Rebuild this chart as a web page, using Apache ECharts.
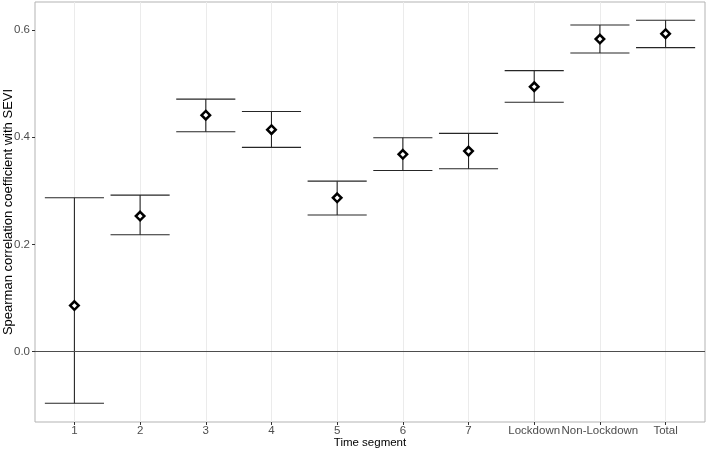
<!DOCTYPE html>
<html>
<head>
<meta charset="utf-8">
<script src="https://cdn.jsdelivr.net/npm/echarts@6/dist/echarts.min.js"></script>
<style>
html,body{margin:0;padding:0;background:#fff;}
#chart{width:708px;height:451px;}
</style>
</head>
<body>
<div id="chart"></div>
<script>
const categories = ['1','2','3','4','5','6','7','Lockdown','Non-Lockdown','Total'];
const estimate = [0.086, 0.253, 0.441, 0.414, 0.287, 0.368, 0.374, 0.494, 0.583, 0.593];
const lower    = [-0.096, 0.218, 0.410, 0.381, 0.255, 0.338, 0.341, 0.465, 0.557, 0.567];
const upper    = [0.287, 0.292, 0.471, 0.448, 0.318, 0.399, 0.407, 0.524, 0.609, 0.618];
const yTicks = [0, 0.2, 0.4, 0.6];

const xIdx = categories.map((c, i) => i);
const font = "'Liberation Sans', Arial, sans-serif";

const chart = echarts.init(document.getElementById('chart'), null, {renderer: 'canvas'});
chart.setOption({
  backgroundColor: '#ffffff',
  animation: false,
  grid: {left: 35, top: 2, right: 3, bottom: 29, containLabel: false, outerBoundsMode: 'none',
    show: true, borderColor: '#b3b3b3', borderWidth: 1, backgroundColor: 'transparent'},
  xAxis: {
    type: 'value', min: -0.6, max: 9.6,
    name: 'Time segment', nameLocation: 'middle', nameGap: 15, nameMoveOverlap: false,
    nameTextStyle: {color: '#000', fontSize: 11.5, fontFamily: font},
    axisLine: {show: false, onZero: false},
    axisTick: {show: true, length: 3, customValues: xIdx, lineStyle: {color: '#333', width: 1}},
    axisLabel: {show: true, margin: 3, customValues: xIdx, color: '#4d4d4d', fontSize: 11.5, fontFamily: font,
      formatter: v => categories[Math.round(v)] },
    splitLine: {show: true, lineStyle: {color: '#ebebeb', width: 1}}
  },
  yAxis: {
    type: 'value', min: -0.131, max: 0.652,
    name: 'Spearman correlation coefficient with SEVI', nameLocation: 'middle', nameGap: 20, nameMoveOverlap: false,
    nameTextStyle: {color: '#000', fontSize: 13, fontFamily: font},
    axisLine: {show: false, onZero: false},
    axisTick: {show: true, length: 3, customValues: yTicks, lineStyle: {color: '#333', width: 1}},
    axisLabel: {show: true, margin: 5, customValues: yTicks, color: '#4d4d4d', fontSize: 11.5, fontFamily: font,
      formatter: v => v.toFixed(1)},
    splitLine: {show: false}
  },
  series: [
    {
      type: 'custom',
      z: 2,
      data: xIdx.map(i => [i, lower[i], upper[i]]),
      renderItem: function (params, api) {
        const x = api.value(0);
        const pLo = api.coord([x, api.value(1)]);
        const pHi = api.coord([x, api.value(2)]);
        const hw = api.size([0.45, 0])[0];
        const st = {stroke: '#262626', lineWidth: 1.1};
        return {type: 'group', children: [
          {type: 'line', shape: {x1: pLo[0], y1: pLo[1], x2: pHi[0], y2: pHi[1]}, style: st},
          {type: 'line', shape: {x1: pLo[0] - hw, y1: pLo[1], x2: pLo[0] + hw, y2: pLo[1]}, style: st},
          {type: 'line', shape: {x1: pHi[0] - hw, y1: pHi[1], x2: pHi[0] + hw, y2: pHi[1]}, style: st}
        ]};
      },
      markLine: {
        silent: true, symbol: 'none', animation: false,
        label: {show: false},
        lineStyle: {color: '#4d4d4d', width: 1, type: 'solid'},
        data: [{yAxis: 0}]
      }
    },
    {
      type: 'scatter',
      z: 3,
      symbol: 'diamond',
      symbolSize: 8.5,
      itemStyle: {color: '#ffffff', borderColor: '#000000', borderWidth: 2.5, opacity: 1},
      data: xIdx.map(i => [i, estimate[i]])
    }
  ]
});
</script>
</body>
</html>
